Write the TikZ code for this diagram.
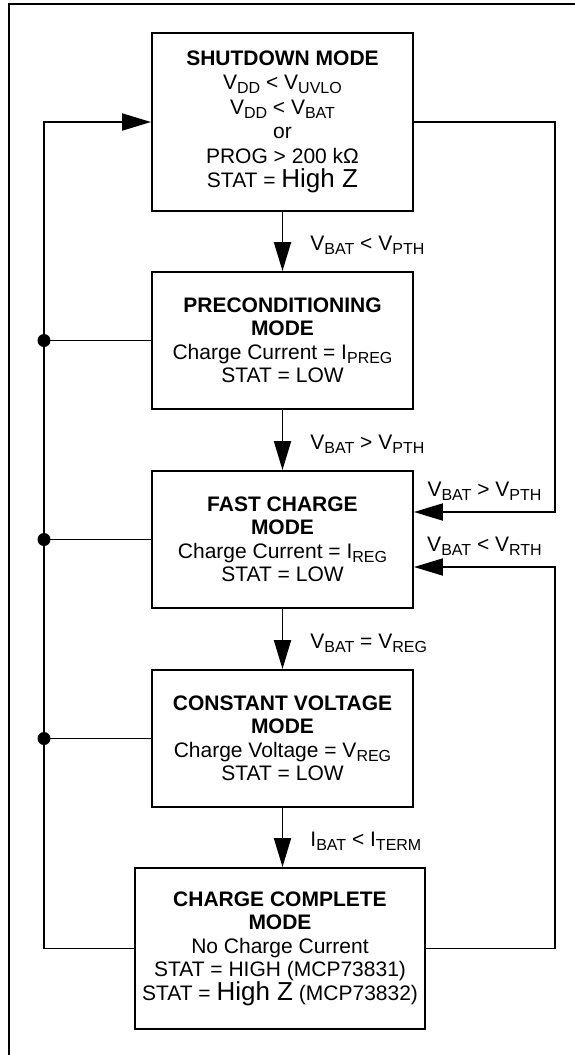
\documentclass[tikz,border=0pt]{standalone}
\usepackage{fontspec}
\setmainfont{Liberation Sans}
\usetikzlibrary{arrows.meta,calc,positioning}
\newcommand\idx[1]{\raisebox{-4pt}{\fontsize{16}{16}\selectfont #1}}
\newcommand\bigz{{\fontsize{26}{24}\selectfont High Z}}

\begin{document}
\begin{tikzpicture}[x=1pt,y=-1pt,
  mode/.style={draw,line width=1.9pt,minimum width=261pt,align=center,inner sep=4pt,font=\fontsize{21}{23.5}\selectfont},
  flow/.style={line width=1.9pt,-{Triangle[length=29pt,width=17pt]}},
  wire/.style={line width=1.9pt},
  dot/.style={circle,fill,inner sep=0pt,minimum size=13pt},
  cond/.style={font=\fontsize{21}{23}\selectfont,inner sep=3pt}]
\useasboundingbox (0,0) rectangle (575,1055);
% outer frame
\draw[wire] (9,1055) -- (9,4) -- (575,4);

% modes
\node[mode,minimum height=178pt,font=\fontsize{21}{24.5}\selectfont] (shut) at (282.5,122) {\textbf{SHUTDOWN MODE}\\V\idx{DD} < V\idx{UVLO}\\V\idx{DD} < V\idx{BAT}\\or\\PROG > 200 kΩ\\STAT = \bigz};
\node[mode,minimum height=137pt] (pre) at (282.5,340.5) {\textbf{PRECONDITIONING}\\\textbf{MODE}\\Charge Current = I\idx{PREG}\\STAT = LOW};
\node[mode,minimum height=137pt] (fast) at (282.5,539.5) {\textbf{FAST CHARGE}\\\textbf{MODE}\\Charge Current = I\idx{REG}\\STAT = LOW};
\node[mode,minimum height=137pt] (cv) at (282.5,738.5) {\textbf{CONSTANT VOLTAGE}\\\textbf{MODE}\\Charge Voltage = V\idx{REG}\\STAT = LOW};
\node[mode,minimum width=290pt,minimum height=161pt] (done) at (280,948.5) {\textbf{CHARGE COMPLETE}\\\textbf{MODE}\\No Charge Current\\STAT = HIGH (MCP73831)\\STAT = \bigz{} (MCP73832)};

% main sequence
\draw[flow] (shut) -- node[cond,right=24pt,yshift=-4pt] (c1) {V\idx{BAT} < V\idx{PTH}} (pre);
\draw[flow] (pre) -- node[cond,right=24pt,yshift=-4pt] (c2) {V\idx{BAT} > V\idx{PTH}} (fast);
\draw[flow] (fast) -- node[cond,right=24pt,yshift=-4pt] (c3) {V\idx{BAT} = V\idx{REG}} (cv);
\draw[flow] (cv.south) -- node[cond,right=24pt,yshift=-4pt] (c4) {I\idx{BAT} < I\idx{TERM}} (cv.south |- done.north);

% left return bus
\coordinate (ltop) at (44,122);
\draw[flow] (done.west) -| (ltop) -- (shut.west);
\foreach \m in {pre,fast,cv}
  \draw[wire] (\m.west) -- (\m.west -| ltop) node[dot] (dot\m) {};

% right return paths
\coordinate (rtop) at (555,122);
\coordinate (rin1) at ($(fast.east)+(0,-27.5)$);
\coordinate (rin2) at ($(fast.east)+(0,27.5)$);
\draw[flow] (shut.east) -- (rtop) |- node[cond,above=8pt,pos=0.75] (c5) {V\idx{BAT} > V\idx{PTH}} (rin1);
\draw[flow] (done.east) -| (rtop |- rin2) -- node[cond,above=8pt] (c6) {V\idx{BAT} < V\idx{RTH}} (rin2);
\end{tikzpicture}
\end{document}
